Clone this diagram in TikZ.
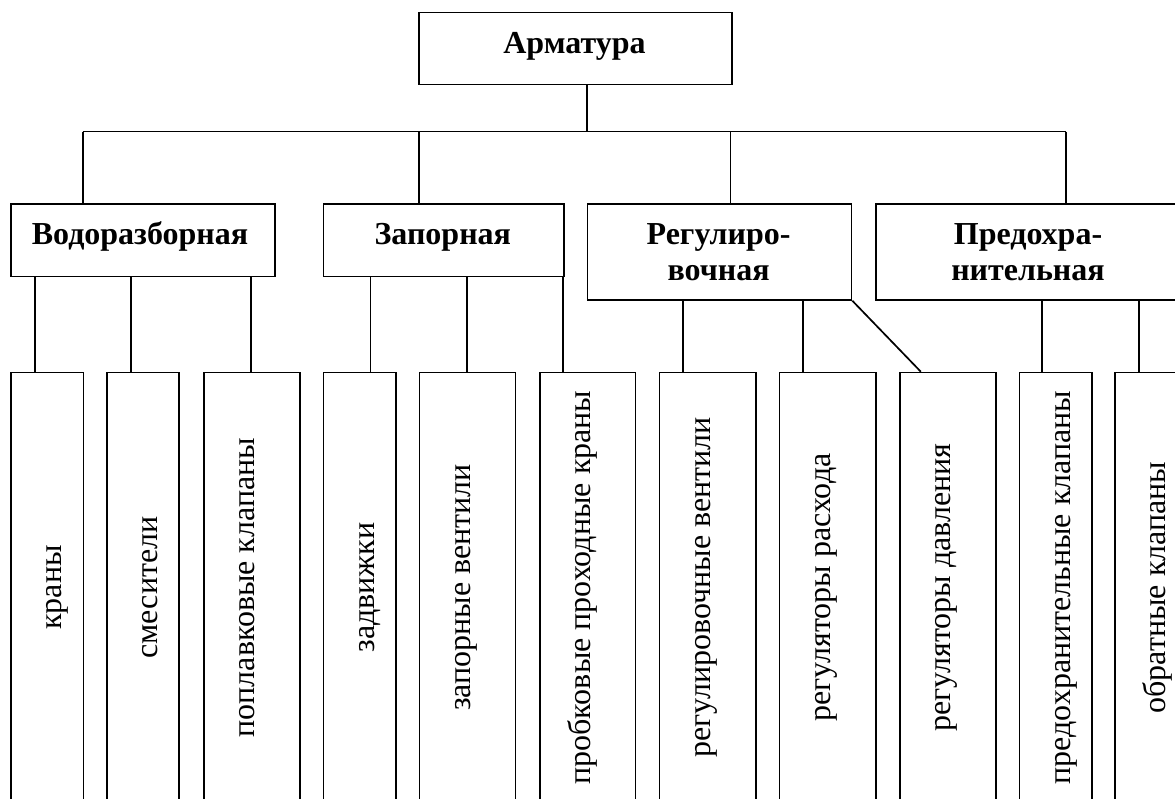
\documentclass[tikz,border=0pt]{standalone}
\usepackage{fontspec}
\setmainfont{Liberation Serif}
\begin{document}
\begin{tikzpicture}[x=1pt,y=-1pt,
  boxst/.style={draw,line width=1.7pt,inner sep=0pt,anchor=north west},
  hdr/.style={font=\fontsize{32}{36.5}\selectfont\bfseries,inner sep=0pt,anchor=base,align=center},
  vtxt/.style={font=\fontsize{32}{37}\selectfont,inner sep=0pt,anchor=base,rotate=90},
  conn/.style={line width=1.7pt}]
\useasboundingbox (0,0) rectangle (1175,798);
\clip (0,0) rectangle (1175,798);
% top
\node[boxst,minimum width=313pt,minimum height=72pt] (top) at (418,11.5) {};
\node[hdr] (ttop) at (574.5,53.5) {Арматура};
% level 2
\node[boxst,minimum width=264.1pt,minimum height=72.4pt] (W) at (10.3,203.3) {};
\node[boxst,minimum width=240.4pt,minimum height=72.4pt] (Z) at (322.6,203.3) {};
\node[boxst,minimum width=263.9pt,minimum height=95.7pt] (R) at (586.7,203.3) {};
\node[boxst,minimum width=306pt,minimum height=95.7pt] (P) at (875,203.3) {};
\node[hdr] (tW) at (140,244) {Водоразборная};
\node[hdr] (tZ) at (442.8,244) {Запорная};
\node[hdr] (tR) at (718.6,280.5) {Регулиро-\\вочная};
\node[hdr] (tP) at (1028,280.5) {Предохра-\\нительная};
% bottom boxes
\foreach \n/\l/\w in {b1/10.3/72.4, b2/106.4/71.9, b3/202.8/96.1, b4/322.6/72.4,
  b5/418.7/96, b6/538.8/95.7, b7/658.6/96.4, b8/778.5/96.5, b9/898.8/96,
  b10/1018.7/72.3, b11/1114/72.3}
  \node[boxst,minimum width=\w pt,minimum height=470pt] (\n) at (\l,371.7) {};
% vertical labels
\node[vtxt] (t1) at ([xshift=51.5pt]b1.north west |- 0,587.5) {краны};
\node[vtxt] (t2) at ([xshift=51.5pt]b2.north west |- 0,587.5) {смесители};
\node[vtxt] (t3) at ([xshift=51.5pt]b3.north west |- 0,587.5) {поплавковые клапаны};
\node[vtxt] (t4) at ([xshift=51.5pt]b4.north west |- 0,587.5) {задвижки};
\node[vtxt] (t5) at ([xshift=51.5pt]b5.north west |- 0,587.5) {запорные вентили};
\node[vtxt] (t6) at ([xshift=51.5pt]b6.north west |- 0,587.5) {пробковые проходные краны};
\node[vtxt] (t7) at ([xshift=51.5pt]b7.north west |- 0,587.5) {регулировочные вентили};
\node[vtxt] (t8) at ([xshift=51.5pt]b8.north west |- 0,587.5) {регуляторы расхода};
\node[vtxt] (t9) at ([xshift=51.5pt]b9.north west |- 0,587.5) {регуляторы давления};
\node[vtxt] (t10) at ([xshift=51.5pt]b10.north west |- 0,587.5) {предохранительные клапаны};
\node[vtxt] (t11) at ([xshift=51.5pt]b11.north west |- 0,587.5) {обратные клапаны};
% connector x positions
\coordinate (bus) at (0,131.5);
\coordinate (x0) at (586.8,0);
\coordinate (xW) at (82.7,0);
\coordinate (xZ) at (418.7,0);
\coordinate (xR) at (730.6,0);
\coordinate (xP) at (1066,0);
\coordinate (x1) at (34.8,0);
\coordinate (x2) at (130.9,0);
\coordinate (x3) at (251,0);
\coordinate (x4) at (370.4,0);
\coordinate (x5) at (466.9,0);
\coordinate (x6) at (563,0);
\coordinate (x7) at (683,0);
\coordinate (x8) at (803,0);
\coordinate (x10) at (1042,0);
\coordinate (x11) at (1138.8,0);
% connectors
\draw[conn] (top.south -| x0) -- (bus -| x0);
\draw[conn] (bus -| xW) -- (bus -| xP);
\draw[conn] (bus -| xW) -- (W.north -| xW);
\draw[conn] (bus -| xZ) -- (Z.north -| xZ);
\draw[conn] (bus -| xR) -- (R.north -| xR);
\draw[conn] (bus -| xP) -- (P.north -| xP);
\draw[conn] (W.south -| x1) -- (b1.north -| x1);
\draw[conn] (W.south -| x2) -- (b2.north -| x2);
\draw[conn] (W.south -| x3) -- (b3.north -| x3);
\draw[conn] (Z.south -| x4) -- (b4.north -| x4);
\draw[conn] (Z.south -| x5) -- (b5.north -| x5);
\draw[conn] (Z.south -| x6) -- (b6.north -| x6);
\draw[conn] (R.south -| x7) -- (b7.north -| x7);
\draw[conn] (R.south -| x8) -- (b8.north -| x8);
\draw[conn] (R.south east) -- ([xshift=22pt]b9.north west);
\draw[conn] (P.south -| x10) -- (b10.north -| x10);
\draw[conn] (P.south -| x11) -- (b11.north -| x11);
\end{tikzpicture}
\end{document}
